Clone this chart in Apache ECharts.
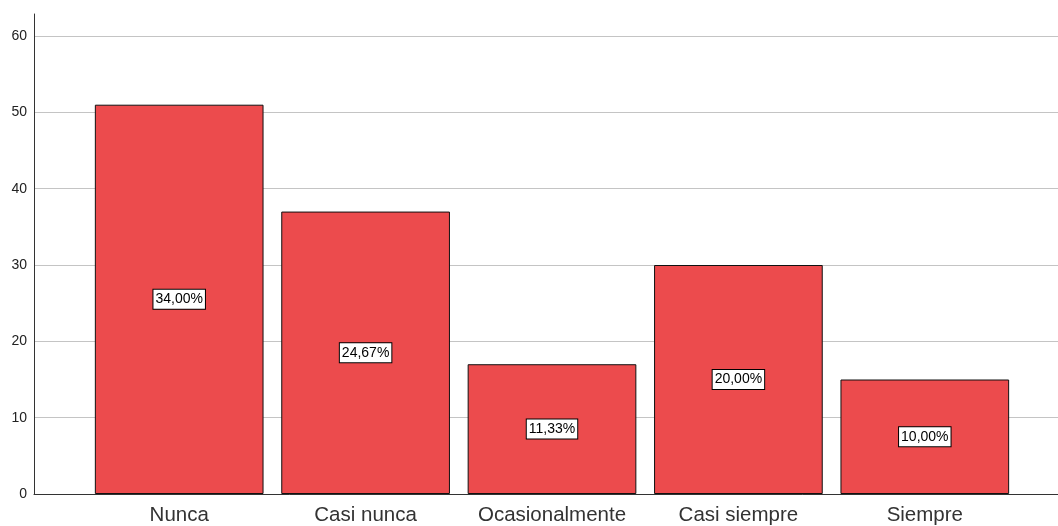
<!DOCTYPE html>
<html>
<head>
<meta charset="utf-8">
<script src="https://cdn.jsdelivr.net/npm/echarts@6/dist/echarts.min.js"></script>
<style>
  html, body { margin: 0; padding: 0; background: #fff; }
  #chart { width: 1058px; height: 526px; }
</style>
</head>
<body>
<div id="chart"></div>
<script>
  // data
  var categories = ['Nunca', 'Casi nunca', 'Ocasionalmente', 'Casi siempre', 'Siempre'];
  var counts = [51, 37, 17, 30, 15];
  var yTicks = [0, 10, 20, 30, 40, 50, 60];

  var total = counts.reduce(function (a, b) { return a + b; }, 0);
  function pct(v) {
    return (v / total * 100).toFixed(2).replace('.', ',') + '%';
  }

  var font = 'Arial, "Liberation Sans", sans-serif';
  var mychart = echarts.init(document.getElementById('chart'));
  var option = {
    backgroundColor: '#fff',
    animation: false,
    grid: [
      // frame: axis lines, y line runs a bit above 60
      { left: 34, right: 0, top: 14, bottom: 32 },
      // gridlines + y labels
      { left: 34, right: 0, top: 36, bottom: 32 },
      // bars, inset like the spss plot
      { left: 86, right: 40, top: 36, bottom: 32 }
    ],
    xAxis: [
      {
        gridIndex: 0, type: 'value', min: 0, max: 1,
        axisLine: { show: true, lineStyle: { color: '#333', width: 1 } },
        axisTick: { show: false }, axisLabel: { show: false }, splitLine: { show: false }
      },
      {
        gridIndex: 1, type: 'value', min: 0, max: 1, show: false
      },
      {
        gridIndex: 2, type: 'category', data: categories,
        axisLine: { show: false }, axisTick: { show: false },
        axisLabel: {
          interval: 0, hideOverlap: false,
          color: '#333', fontSize: 20.5, fontFamily: font, margin: 11
        }
      }
    ],
    yAxis: [
      {
        gridIndex: 0, type: 'value', min: 0, max: 1,
        axisLine: { show: true, lineStyle: { color: '#333', width: 1 } },
        axisTick: { show: false }, axisLabel: { show: false }, splitLine: { show: false }
      },
      {
        gridIndex: 1, type: 'value', min: yTicks[0], max: yTicks[yTicks.length - 1], interval: 10,
        axisLine: { show: false }, axisTick: { show: false },
        axisLabel: { color: '#222', fontSize: 14, fontFamily: font, margin: 7 },
        splitLine: { show: true, lineStyle: { color: '#c4c4c4', width: 1 } }
      },
      {
        gridIndex: 2, type: 'value', min: yTicks[0], max: yTicks[yTicks.length - 1], show: false
      }
    ],
    series: [
      {
        type: 'bar',
        xAxisIndex: 2,
        yAxisIndex: 2,
        data: counts,
        barCategoryGap: '9.5%',
        itemStyle: { color: '#ec4b4d', borderColor: '#111', borderWidth: 1 },
        label: {
          show: true,
          position: 'inside',
          formatter: function (p) { return pct(p.value); },
          color: '#000',
          fontSize: 14,
          fontFamily: font,
          backgroundColor: '#fff',
          borderColor: '#000',
          borderWidth: 1,
          padding: [3, 2, 2, 2]
        }
      }
    ]
  };
  mychart.setOption(option);
</script>
</body>
</html>
